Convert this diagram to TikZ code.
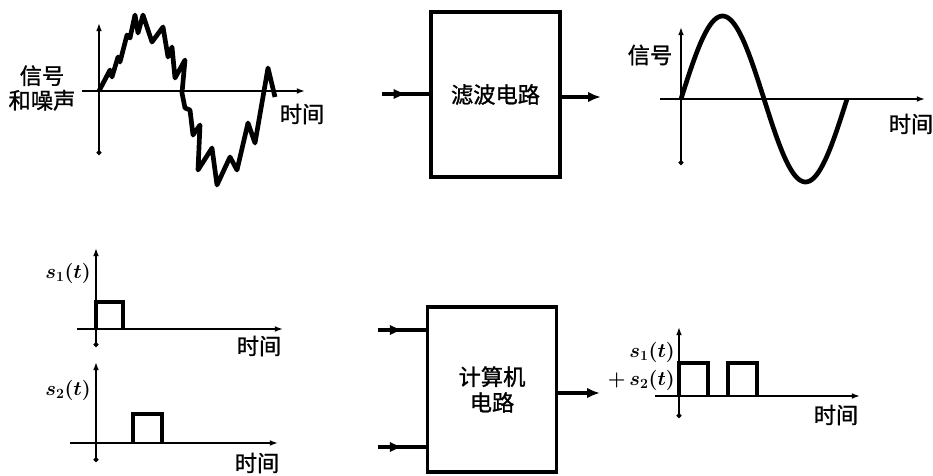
\documentclass[tikz,border=0pt]{standalone}
\usepackage{amsmath}
\usepackage{fontspec}
\newfontfamily\cjk[FakeBold=1.2]{Noto Sans CJK SC}
\usetikzlibrary{arrows.meta, positioning, decorations.markings}

\begin{document}
\begin{tikzpicture}[
    x=0.03cm, y=-0.03cm, >={Latex[length=7pt,width=5pt]},
    axisline/.style={draw, line width=1.6pt, {Circle[length=4pt]}->},
    timeline/.style={draw, line width=1.6pt, ->},
    wave/.style={draw, line width=4pt, line join=round},
    pulse/.style={draw, line width=3pt},
    blockbox/.style={rectangle, draw, line width=3pt, minimum width=3.87cm, minimum height=4.95cm, align=center, font=\cjk\fontsize{19}{22}\selectfont},
    cjklabel/.style={font=\cjk\fontsize{19}{21}\selectfont, inner sep=0pt, align=center},
    siglabel/.style={font=\fontsize{17}{24}\selectfont\boldmath, inner sep=0pt, align=right},
    line/.style={draw, line width=2.6pt, -{Latex[length=11pt,width=9pt]}},
    midline/.style={draw, line width=2.6pt, postaction={decorate}, decoration={markings, mark=at position 0.52 with {\arrow{Latex[length=11pt,width=9pt]}}}}
  ]
    \useasboundingbox (0,0) rectangle (933,475);

    % signal with noise
    \draw[timeline] (82,91) -- (305,91);
    \draw[axisline] (99,155) -- (99,23);
    \draw[wave] (99,91) -- (110,70) -- (112,77) -- (118,57) -- (120,62) -- (127,35) -- (130,38) -- (135,15) -- (138,33) -- (143,15) -- (152,42) -- (163,27) -- (168,57) -- (172,47) -- (175,78) -- (185,60) -- (182,93) -- (185,108) -- (190,110) -- (193,135) -- (200,125) -- (198,170) -- (212,148) -- (217,185) -- (230,157) -- (237,170) -- (248,123) -- (255,143) -- (268,68) -- (275,97);
    \node[cjklabel] (noisylbl) at (42,88) {信号\\和噪声};
    \node[cjklabel] (noisytime) at (302,114) {时间};

    % filter
    \node[blockbox] (filt) at (495.5,94.5) {滤波电路};
    \coordinate (fin) at (382,94);
    \coordinate (fout) at (601,97);
    \draw[midline] (fin) -- (fin -| filt.west);
    \draw[line] (filt.east |- fout) -- (fout);

    % clean signal
    \draw[timeline] (660,99) -- (925,99);
    \draw[axisline] (681,165) -- (681,27);
    \draw[wave] plot[domain=0:360, samples=90, smooth] ({681+\x*0.4611}, {99-83*sin(\x)});
    \node[cjklabel] (cleanlbl) at (650,55) {信号};
    \node[cjklabel] (cleantime) at (911,124) {时间};

    % s1(t)
    \draw[timeline] (77,329) -- (283,329);
    \draw[axisline] (96,347) -- (96,248);
    \draw[pulse] (96,329) -- (96,302) -- (123,302) -- (123,329);
    \node[siglabel] (sonelbl) at (68,273) {$s_1(t)$};
    \node[cjklabel] (sonetime) at (259,346) {时间};

    % s2(t)
    \draw[timeline] (70,443) -- (278,443);
    \draw[axisline] (96,462) -- (96,362);
    \draw[pulse] (133,443) -- (133,414) -- (162,414) -- (162,443);
    \node[siglabel] (stwolbl) at (68,390) {$s_2(t)$};
    \node[cjklabel] (stwotime) at (257,463) {时间};

    % computer circuit
    \node[blockbox] (comp) at (492,389.5) {计算机\\电路};
    \coordinate (cin1) at (378,330);
    \coordinate (cin2) at (378,447);
    \coordinate (cout) at (600,393);
    \draw[midline] (cin1) -- (cin1 -| comp.west);
    \draw[midline] (cin2) -- (cin2 -| comp.west);
    \draw[line] (comp.east |- cout) -- (cout);

    % s1(t)+s2(t)
    \draw[timeline] (655,396) -- (860,396);
    \draw[axisline] (679,418) -- (679,327);
    \draw[pulse] (679,396) -- (679,363) -- (708,363) -- (708,396);
    \draw[pulse] (728,396) -- (728,363) -- (757,363) -- (757,396);
    \node[siglabel, anchor=east] (sumlbl) at (675,366) {$s_1(t)$\\$+\,s_2(t)$};
    \node[cjklabel] (sumtime) at (836,415) {时间};
  \end{tikzpicture}
\end{document}
